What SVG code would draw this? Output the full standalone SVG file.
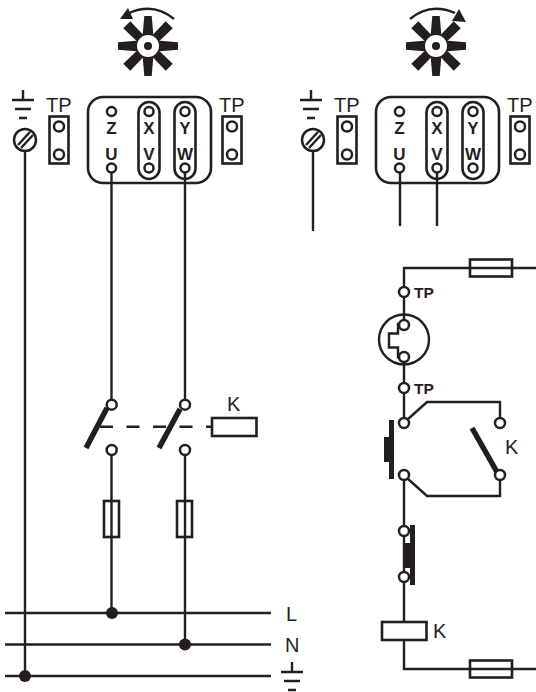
<svg xmlns="http://www.w3.org/2000/svg" xmlns:xlink="http://www.w3.org/1999/xlink" width="536" height="692" viewBox="0 0 536 692">
<style>
.l{fill:none;stroke:#231f20;stroke-width:2.4}
.m{fill:none;stroke:#231f20;stroke-width:2.6}
.o{fill:#fff;stroke:#231f20;stroke-width:2.5}
.k{fill:#231f20;stroke:none}
.b{fill:none;stroke:#231f20;stroke-width:5.5}
.t{font-family:"Liberation Sans",Arial,sans-serif;font-size:20px;fill:#231f20}
.s{font-family:"Liberation Sans",Arial,sans-serif;font-size:17px;font-weight:bold;fill:#231f20;text-anchor:middle}
.w{font-family:"Liberation Sans",Arial,sans-serif;font-size:15.500px;font-weight:bold;fill:#231f20}
</style>
<defs>
<g id="blades">
<path id="bl" class="k" d="M-3.700,-30 L3.700,-30 L5.500,-9 L-5.500,-9 Z"/>
<path id="bd" class="k" d="M-5,-30 L5,-30 L4.500,-9 L-4.500,-9 Z" transform="rotate(45)"/>
<use xlink:href="#bl" transform="rotate(90)"/><use xlink:href="#bl" transform="rotate(180)"/><use xlink:href="#bl" transform="rotate(270)"/>
<use xlink:href="#bd" transform="rotate(90)"/><use xlink:href="#bd" transform="rotate(180)"/><use xlink:href="#bd" transform="rotate(270)"/>
<circle r="11" fill="#fff" stroke="none"/>
<circle r="4" class="k"/>
</g>
<g id="earth">
<path class="l" d="M0,0V10M-11,10H11M-8,19H8M-4,28H4"/>
</g>
<g id="screw">
<circle r="11" class="o"/>
<path class="l" d="M-7,5L5,-8M-4,8L8,-5"/>
</g>
<g id="tp">
<rect x="-9.500" y="0" width="19" height="47" class="m"/>
<circle cy="10" r="5" class="o"/><circle cy="38" r="5" class="o"/>
</g>
<g id="fuseV"><rect x="-7.500" y="0" width="15" height="36" class="m"/></g>
<g id="fuseH"><rect x="0" y="-8.500" width="42" height="17" class="m"/></g>
</defs>

<g id="connectors">
<path class="l" d="M25,151V676"/>
<path class="l" d="M111.500,173V399M111.500,455V613"/>
<path class="l" d="M185,173V399M185,455V644"/>
<path class="l" d="M5,613H271M5,644.500H271M5,676H271"/>
<path class="l" stroke-dasharray="13 13.500" d="M100,426.700H212"/>
<path class="l" d="M313,151V231M400,173V226M437,173V226"/>
<path class="l" d="M536,268H404V287M404,297V320M404,362V383M404,393V418M404,480V526M404,536V572M404,582V622M404,640V669H536"/>
<path class="l" d="M407.500,419.500L427,402H500V418M500,480V496H427L407.500,478.500"/>
</g>

<g id="fan-left"><use xlink:href="#blades" transform="translate(148,46)"/>
<path class="l" d="M174,19C161,8 145,6 129,13"/><path class="k" d="M120,19L128,8L133,19Z"/></g>
<g id="fan-right"><use xlink:href="#blades" transform="translate(436,46)"/>
<path class="l" d="M410,19C423,8 439,6 455,13"/><path class="k" d="M466,22L459,9L452,21Z"/></g>

<g id="earth-left"><use xlink:href="#earth" transform="translate(23,90)"/></g>
<g id="screw-left"><use xlink:href="#screw" transform="translate(25,140)"/></g>
<g id="tp-left-a"><text class="t" x="46" y="112">TP</text><use xlink:href="#tp" transform="translate(59,116.500)"/></g>
<g id="tp-left-b"><text class="t" x="219" y="112">TP</text><use xlink:href="#tp" transform="translate(232,116.500)"/></g>

<g id="terminal-left">
<rect x="88" y="97" width="123" height="86" rx="15" class="m"/>
<rect x="138.500" y="102" width="21" height="77" rx="10.500" class="m"/>
<rect x="174.500" y="102" width="21" height="77" rx="10.500" class="m"/>
<circle cx="111.500" cy="111.500" r="4.500" class="o"/><circle cx="149" cy="111.500" r="4.500" class="o"/><circle cx="185" cy="111.500" r="4.500" class="o"/>
<circle cx="111.500" cy="168" r="4.500" class="o"/><circle cx="149" cy="168" r="4.500" class="o"/><circle cx="185" cy="168" r="4.500" class="o"/>
<text class="s" x="111.500" y="134">Z</text><text class="s" x="149" y="134">X</text><text class="s" x="185" y="134">Y</text>
<text class="s" x="111.500" y="160">U</text><text class="s" x="149" y="160">V</text><text class="s" x="185" y="160">W</text>
</g>

<g id="earth-right"><use xlink:href="#earth" transform="translate(311,90)"/></g>
<g id="screw-right"><use xlink:href="#screw" transform="translate(313,140)"/></g>
<g id="tp-right-a"><text class="t" x="334" y="112">TP</text><use xlink:href="#tp" transform="translate(347,116.500)"/></g>
<g id="tp-right-b"><text class="t" x="507" y="112">TP</text><use xlink:href="#tp" transform="translate(520,116.500)"/></g>

<g id="terminal-right">
<rect x="376" y="97" width="123" height="86" rx="15" class="m"/>
<rect x="426.500" y="102" width="21" height="77" rx="10.500" class="m"/>
<rect x="462.500" y="102" width="21" height="77" rx="10.500" class="m"/>
<circle cx="399.500" cy="111.500" r="4.500" class="o"/><circle cx="437" cy="111.500" r="4.500" class="o"/><circle cx="473" cy="111.500" r="4.500" class="o"/>
<circle cx="399.500" cy="168" r="4.500" class="o"/><circle cx="437" cy="168" r="4.500" class="o"/><circle cx="473" cy="168" r="4.500" class="o"/>
<text class="s" x="399.500" y="134">Z</text><text class="s" x="437" y="134">X</text><text class="s" x="473" y="134">Y</text>
<text class="s" x="399.500" y="160">U</text><text class="s" x="437" y="160">V</text><text class="s" x="473" y="160">W</text>
</g>

<g id="contactor-1">
<path class="b" d="M107,408L86,448"/>
<circle cx="111.700" cy="404.700" r="5" class="o"/><circle cx="111.700" cy="450" r="5" class="o"/>
</g>
<g id="contactor-2">
<path class="b" d="M180,409L159,448"/>
<circle cx="185" cy="404.700" r="5" class="o"/><circle cx="185" cy="450" r="5" class="o"/>
</g>
<g id="coil-k-left"><rect x="212" y="418" width="44.500" height="18" class="m" fill="#fff"/><text class="t" x="227" y="411">K</text></g>
<g id="fuse-1"><use xlink:href="#fuseV" transform="translate(111.500,501)"/></g>
<g id="fuse-2"><use xlink:href="#fuseV" transform="translate(184.500,501)"/></g>

<g id="junctions"><circle cx="112" cy="613" r="6" class="k"/><circle cx="185" cy="644.500" r="6" class="k"/><circle cx="25" cy="676" r="6" class="k"/></g>
<g id="bus-labels"><text class="t" x="286" y="621">L</text><text class="t" x="285" y="652">N</text><use xlink:href="#earth" transform="translate(292,662)"/></g>

<g id="fuse-top"><use xlink:href="#fuseH" transform="translate(470,268)"/></g>
<g id="tp-1"><circle cx="404" cy="292" r="5" class="o"/><text class="w" x="414" y="298">TP</text></g>
<g id="thermal">
<circle cx="404" cy="339.500" r="25" class="l"/>
<path class="l" d="M400,324H398V333.500H389V347.500H398V357H400"/>
<circle cx="404" cy="325" r="5" class="o"/><circle cx="404" cy="357" r="5" class="o"/>
</g>
<g id="tp-2"><circle cx="404" cy="388" r="5" class="o"/><text class="w" x="414" y="394">TP</text></g>
<g id="button-stop"><rect x="389" y="420" width="5" height="59" class="k"/><rect x="384" y="437" width="6" height="25" class="k"/>
<circle cx="404" cy="423" r="5" class="o"/><circle cx="404" cy="475" r="5" class="o"/></g>
<g id="contact-k"><path class="b" d="M472,428L497,472"/><circle cx="500" cy="423" r="5" class="o"/><circle cx="500" cy="475" r="5" class="o"/><text class="t" x="505" y="454">K</text></g>
<g id="button-start"><rect x="410" y="525" width="5" height="60" class="k"/><rect x="405" y="543" width="6" height="25" class="k"/>
<circle cx="404" cy="531" r="5" class="o"/><circle cx="404" cy="577" r="5" class="o"/></g>
<g id="coil-k-right"><rect x="382" y="622" width="44.500" height="18" class="m" fill="#fff"/><text class="t" x="433" y="638">K</text></g>
<g id="fuse-bottom"><use xlink:href="#fuseH" transform="translate(470,669)"/></g>
</svg>
